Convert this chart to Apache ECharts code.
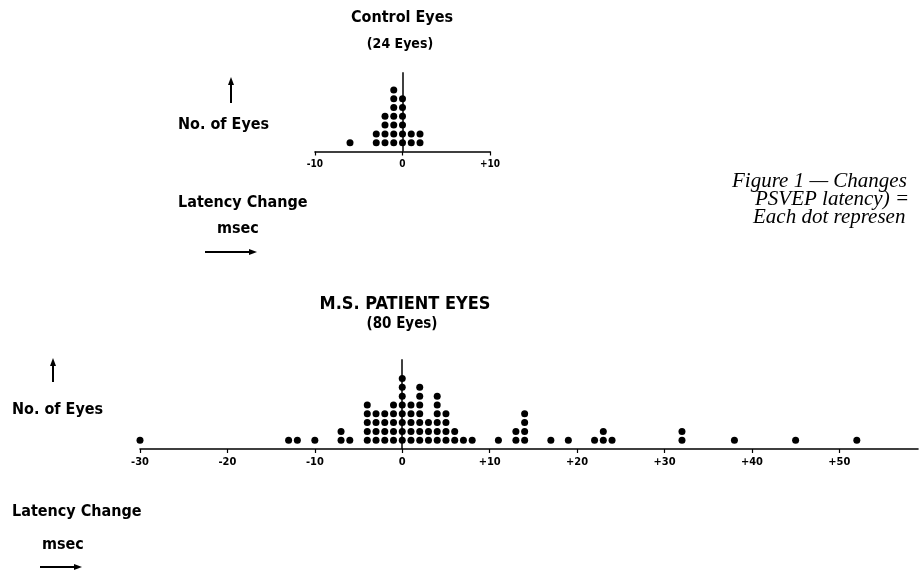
<!DOCTYPE html>
<html><head><meta charset="utf-8">
<script src="https://cdn.jsdelivr.net/npm/echarts@6/dist/echarts.min.js"></script>
<style>html,body{margin:0;padding:0;background:#fff}#c{width:920px;height:571px}</style>
</head><body><div id="c"></div>
<script>
// Control eyes: latency change (msec) and number of eyes at that value
const controlValues = [-6, -3, -2, -1, 0, 1, 2];
const controlCounts = [1, 2, 4, 7, 6, 2, 2];
// M.S. patient eyes
const msValues = [-30, -13, -12, -10, -7, -6, -4, -3, -2, -1, 0, 1, 2, 3, 4, 5, 6, 7, 8, 11, 13, 14, 17, 19, 22, 23, 24, 32, 38, 45, 52];
const msCounts = [1, 1, 1, 1, 2, 1, 5, 4, 4, 5, 8, 5, 7, 3, 6, 4, 2, 1, 1, 1, 2, 4, 1, 1, 1, 2, 1, 2, 1, 1, 1];
// Tick labels
const controlTicks = [-10, 0, 10];
const msTicks = [-30, -20, -10, 0, 10, 20, 30, 40, 50];

function stack(values, counts) {
  const pts = [];
  values.forEach((v, i) => { for (let k = 1; k <= counts[i]; k++) pts.push([v, k]); });
  return pts;
}
const fmt = v => v > 0 ? '+' + v : String(v);
const LBL = '"DejaVu Sans Condensed", "Liberation Sans Narrow", sans-serif';
const SERIF = '"Liberation Serif", "DejaVu Serif", serif';

const chart = echarts.init(document.getElementById('c'), null, { renderer: 'canvas' });

function xAxisFor(gi, min, max, ticks, fs) {
  return {
    type: 'value', gridIndex: gi, min: min, max: max, interval: 10,
    axisLine: { show: true, onZero: false, lineStyle: { color: '#000', width: 1.6 } },
    axisTick: { show: true, customValues: ticks, length: 4, lineStyle: { color: '#000', width: 1.2 } },
    axisLabel: {
      customValues: ticks, margin: 8, color: '#000', fontSize: fs, fontWeight: 'bold', fontFamily: LBL,
      formatter: v => ticks.indexOf(v) >= 0 ? fmt(v) : ''
    },
    splitLine: { show: false }
  };
}
function yAxisFor(gi, max) {
  return { type: 'value', gridIndex: gi, min: 0, max: max, show: false, splitLine: { show: false } };
}
function dotSeries(gi, values, counts, topY) {
  return {
    type: 'scatter', xAxisIndex: gi, yAxisIndex: gi, symbol: 'circle', symbolSize: 7,
    itemStyle: { color: '#000', opacity: 1 }, silent: true, z: 3,
    data: stack(values, counts),
    markLine: {
      silent: true, symbol: 'none', label: { show: false },
      lineStyle: { color: '#000', width: 1.5, type: 'solid' },
      data: [[{ coord: [0, 0] }, { coord: [0, topY] }]]
    }
  };
}

function txt(x, y, s, size, align, weight, family, style) {
  return {
    type: 'text', x: x, y: y, silent: true,
    style: {
      text: s, fill: '#000', textAlign: align, textVerticalAlign: 'middle',
      font: (style || 'normal') + ' ' + (weight || 'bold') + ' ' + size + 'px ' + (family || LBL)
    }
  };
}
function upArrow(x, y1, y2) {
  return [
    { type: 'line', silent: true, shape: { x1: x, y1: y1 + 6, x2: x, y2: y2 }, style: { stroke: '#000', lineWidth: 2 } },
    { type: 'polygon', silent: true, shape: { points: [[x, y1], [x - 3, y1 + 8], [x + 3, y1 + 8]] }, style: { fill: '#000' } }
  ];
}
function rightArrow(x1, x2, y) {
  return [
    { type: 'line', silent: true, shape: { x1: x1, y1: y, x2: x2 - 6, y2: y }, style: { stroke: '#000', lineWidth: 1.8 } },
    { type: 'polygon', silent: true, shape: { points: [[x2, y], [x2 - 8, y - 3], [x2 - 8, y + 3]] }, style: { fill: '#000' } }
  ];
}

chart.setOption({
  animation: false,
  backgroundColor: '#fff',
  grid: [
    { left: 315, width: 175, top: 72.3, height: 79.2 },
    { left: 140, width: 778, top: 359.2, height: 89.8 }
  ],
  xAxis: [xAxisFor(0, -10, 10, controlTicks, 10), xAxisFor(1, -30, 59, msTicks, 11)],
  yAxis: [yAxisFor(0, 9), yAxisFor(1, 10.2)],
  series: [dotSeries(0, controlValues, controlCounts, 9), dotSeries(1, msValues, msCounts, 10.2)],
  graphic: [].concat(
    [
      txt(402, 18, 'Control Eyes', 16, 'center'),
      txt(400, 44, '(24 Eyes)', 14, 'center'),
      txt(178, 125, 'No. of Eyes', 16, 'left'),
      txt(178, 203, 'Latency Change', 16, 'left'),
      txt(217, 229, 'msec', 16, 'left'),
      txt(405, 304, 'M.S. PATIENT EYES', 18, 'center'),
      txt(402, 324, '(80 Eyes)', 15, 'center'),
      txt(12, 410, 'No. of Eyes', 16, 'left'),
      txt(12, 512, 'Latency Change', 16, 'left'),
      txt(42, 545, 'msec', 16, 'left'),
      txt(732, 181, 'Figure 1 \u2014 Changes', 21, 'left', 'normal', SERIF, 'italic'),
      txt(755, 199, 'PSVEP latency) =', 21, 'left', 'normal', SERIF, 'italic'),
      txt(753, 217, 'Each dot represen', 21, 'left', 'normal', SERIF, 'italic')
    ],
    upArrow(231, 77, 103),
    upArrow(53, 358, 382),
    rightArrow(205, 257, 252),
    rightArrow(40, 82, 567)
  )
});
</script></body></html>
